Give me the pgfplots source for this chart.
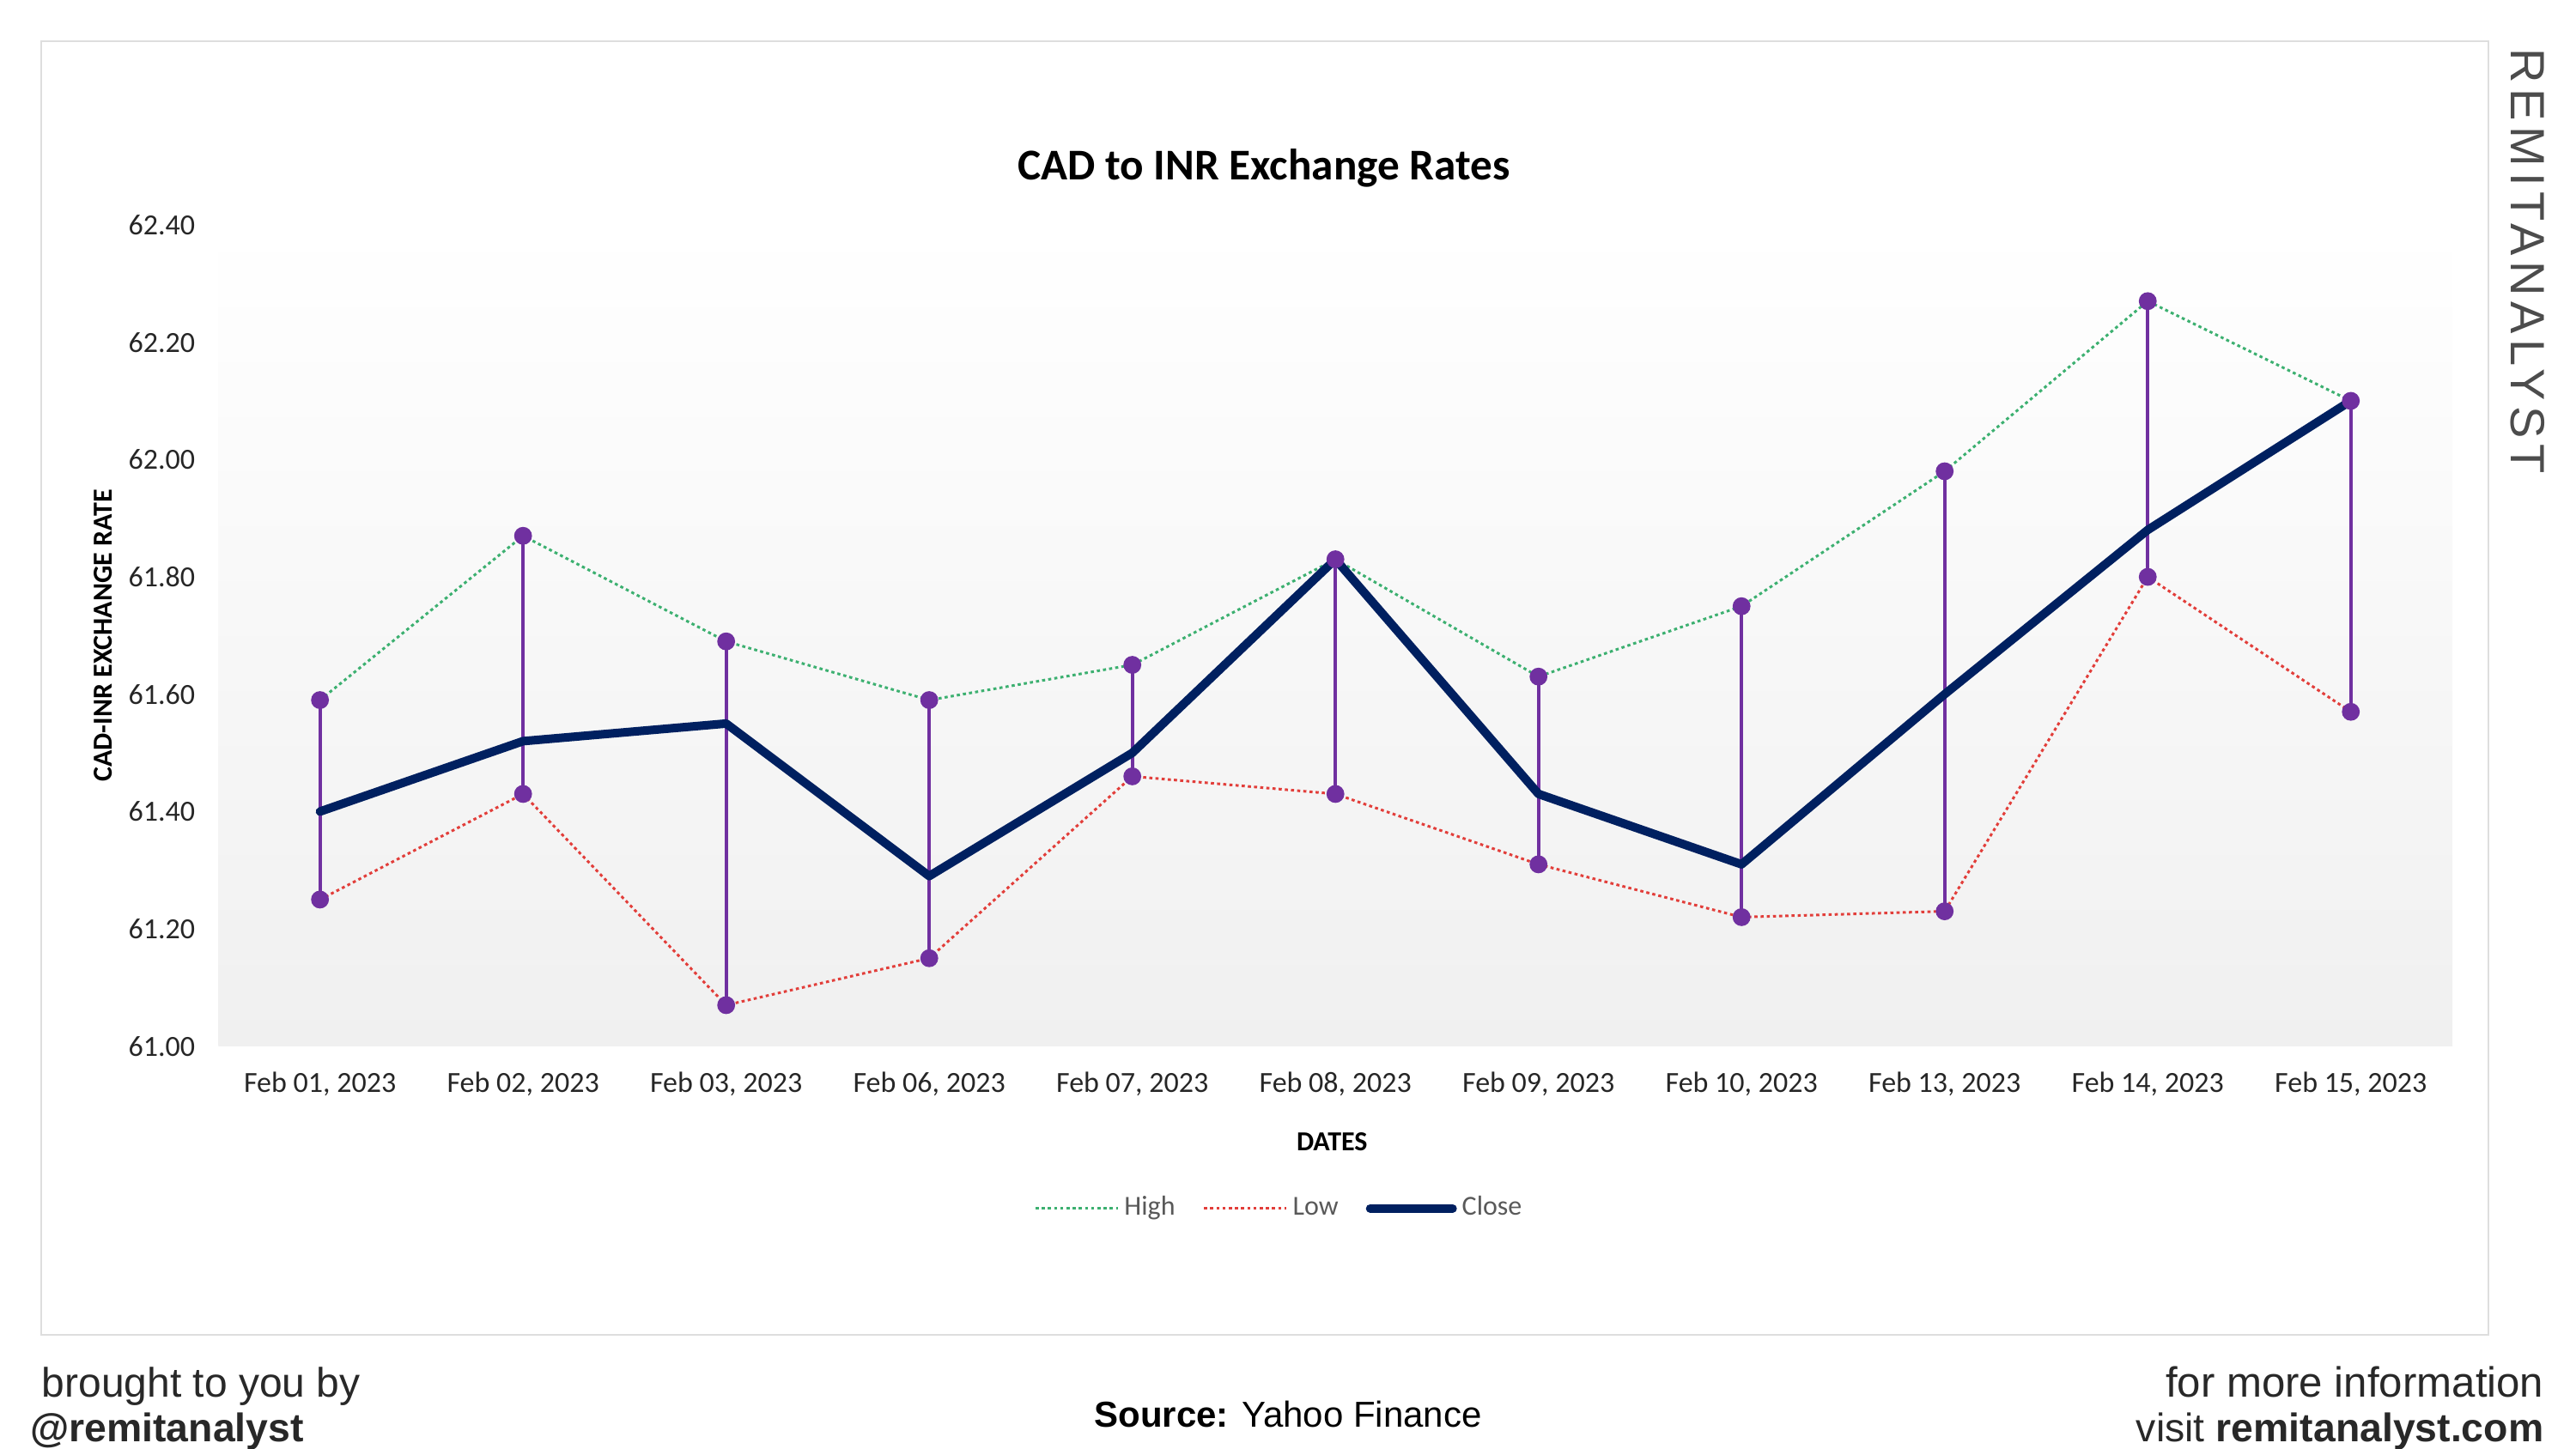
\documentclass[border=0pt]{standalone}
\usepackage{pgfplots}
\pgfplotsset{compat=1.18}
\usepackage{fontspec}
\setmainfont{Carlito}
\newfontfamily\arialf{Liberation Sans}
\newfontfamily\arialsp[LetterSpace=12]{Liberation Sans}
\definecolor{hiC}{RGB}{60,176,112}
\definecolor{loC}{RGB}{226,62,58}
\definecolor{clC}{RGB}{0,32,96}
\definecolor{puC}{RGB}{112,48,160}
\definecolor{bgC}{RGB}{240,240,240}
\definecolor{brdC}{RGB}{222,222,222}
\definecolor{tickC}{RGB}{38,38,38}
\definecolor{legC}{RGB}{89,89,89}
\definecolor{footC}{RGB}{40,40,40}
\begin{document}
\begin{tikzpicture}
\path[use as bounding box] (0,0) rectangle (750pt,422pt);
\draw[brdC, line width=0.6pt] (12pt,33.2pt) rectangle (724.5pt,410pt);
\begin{axis}[
  at={(63.6pt,117.3pt)}, anchor=south west,
  scale only axis, width=650.4pt, height=239.2pt,
  xmin=-0.5, xmax=10.5, ymin=61, ymax=62.4,
  axis line style={draw=none},
  major tick length=0pt,
  xtick={0,1,2,3,4,5,6,7,8,9,10},
  xticklabels={{Feb 01, 2023},{Feb 02, 2023},{Feb 03, 2023},{Feb 06, 2023},{Feb 07, 2023},{Feb 08, 2023},{Feb 09, 2023},{Feb 10, 2023},{Feb 13, 2023},{Feb 14, 2023},{Feb 15, 2023}},
  xticklabel style={anchor=center, yshift=-11pt, font=\fontsize{8.5}{10}\selectfont, text=tickC},
  ytick={61,61.2,61.4,61.6,61.8,62,62.2,62.4},
  yticklabel style={anchor=east, inner sep=0pt, xshift=-6.6pt, font=\fontsize{8.5}{10}\selectfont, text=tickC,
    /pgf/number format/fixed, /pgf/number format/fixed zerofill, /pgf/number format/precision=2,
    /pgf/number format/assume math mode=true},
  axis background/.style={shade, top color=white, bottom color=bgC},
  title={CAD to INR Exchange Rates},
  title style={at={(axis description cs:0.468,1.044)}, anchor=center, font=\fontsize{12.8}{15}\selectfont\bfseries},
  xlabel={DATES},
  xlabel style={at={(axis description cs:0.4985,-0.116)}, anchor=center, font=\fontsize{8}{10}\selectfont\bfseries},
  ylabel={CAD-INR EXCHANGE RATE},
  ylabel style={at={(axis description cs:-0.0517,0.5)}, anchor=center, font=\fontsize{8}{10}\selectfont\bfseries},
  legend style={at={(0.4755,-0.1975)}, anchor=center, draw=none, fill=none,
    font=\fontsize{8}{9.6}\selectfont, text=legC, legend columns=3,
    /tikz/every even column/.append style={column sep=6.5pt},
    nodes={inner sep=1.5pt}},
  legend image code/.code={\draw[#1] (0pt,0pt) -- (24pt,0pt);},
  clip=false,
]
% high-low lines
\addplot[puC, line width=1pt, forget plot, unbounded coords=jump] coordinates {
  (0,61.59) (0,61.25) (0,nan)
  (1,61.87) (1,61.43) (1,nan)
  (2,61.69) (2,61.07) (2,nan)
  (3,61.59) (3,61.15) (3,nan)
  (4,61.65) (4,61.46) (4,nan)
  (5,61.83) (5,61.43) (5,nan)
  (6,61.63) (6,61.31) (6,nan)
  (7,61.75) (7,61.22) (7,nan)
  (8,61.98) (8,61.23) (8,nan)
  (9,62.27) (9,61.80) (9,nan)
  (10,62.10) (10,61.57)
};
\addplot[hiC, line width=0.75pt, dash pattern=on 0.9pt off 0.9pt] coordinates {
  (0,61.59) (1,61.87) (2,61.69) (3,61.59) (4,61.65) (5,61.83)
  (6,61.63) (7,61.75) (8,61.98) (9,62.27) (10,62.10)
};
\addlegendentry{High}
\addplot[loC, line width=0.75pt, dash pattern=on 0.9pt off 0.9pt] coordinates {
  (0,61.25) (1,61.43) (2,61.07) (3,61.15) (4,61.46) (5,61.43)
  (6,61.31) (7,61.22) (8,61.23) (9,61.80) (10,61.57)
};
\addlegendentry{Low}
\addplot[clC, line width=2.5pt, line cap=round, line join=round] coordinates {
  (0,61.40) (1,61.52) (2,61.55) (3,61.29) (4,61.50) (5,61.83)
  (6,61.43) (7,61.31) (8,61.60) (9,61.88) (10,62.10)
};
\addlegendentry{Close}
\addplot[only marks, mark=*, mark size=2.4pt, color=puC, forget plot] coordinates {
  (0,61.59) (1,61.87) (2,61.69) (3,61.59) (4,61.65) (5,61.83)
  (6,61.63) (7,61.75) (8,61.98) (9,62.27) (10,62.10)
};
\addplot[only marks, mark=*, mark size=2.4pt, color=puC, forget plot] coordinates {
  (0,61.25) (1,61.43) (2,61.07) (3,61.15) (4,61.46) (5,61.43)
  (6,61.31) (7,61.22) (8,61.23) (9,61.80) (10,61.57)
};
\end{axis}
% side watermark
\node[rotate=-90, anchor=center, inner sep=0pt, text=black!70, font=\arialsp\fontsize{14}{16}\selectfont] at (736pt,346pt) {REMITANALYST};
% footer
\node[anchor=base west, inner sep=0pt, text=footC, font=\arialf\fontsize{12}{14}\selectfont] at (12pt,15pt) {brought to you by};
\node[anchor=base west, inner sep=0pt, text=footC, font=\arialf\fontsize{11.6}{14}\selectfont\bfseries] at (8.6pt,2pt) {@remitanalyst};
\node[anchor=base, inner sep=0pt, text=black, font=\arialf\fontsize{10.5}{12}\selectfont] at (375pt,6.4pt) {\textbf{Source:} Yahoo Finance};
\node[anchor=base east, inner sep=0pt, text=footC, font=\arialf\fontsize{12.3}{14}\selectfont] at (740.8pt,15pt) {for more information};
\node[anchor=base east, inner sep=0pt, text=footC, font=\arialf\fontsize{11.6}{14}\selectfont] at (740.8pt,2pt) {visit \textbf{remitanalyst.com}};
\end{tikzpicture}
\end{document}
